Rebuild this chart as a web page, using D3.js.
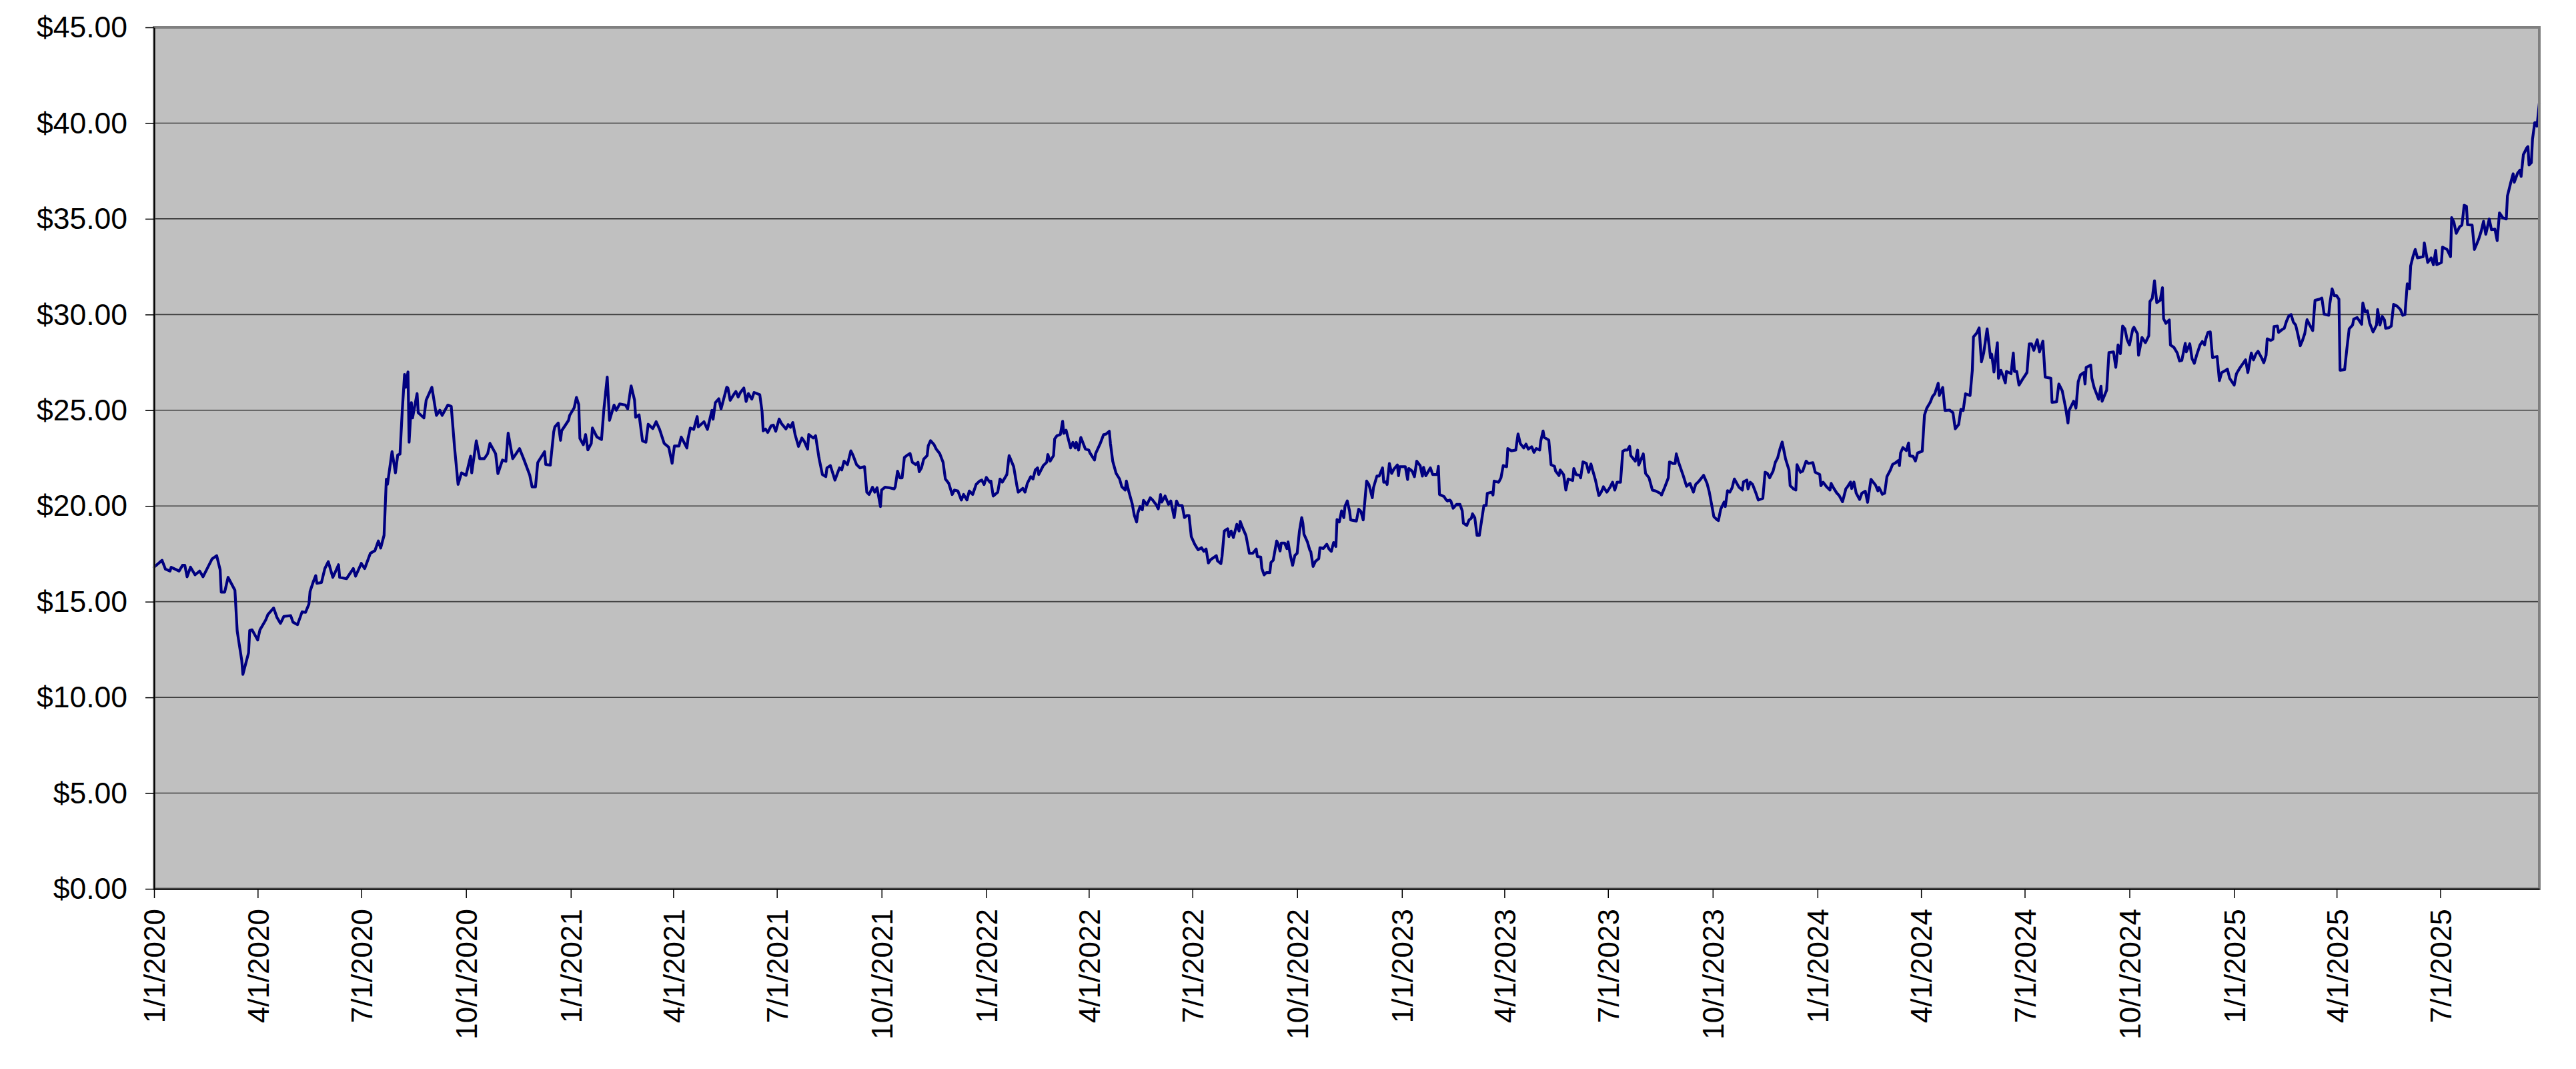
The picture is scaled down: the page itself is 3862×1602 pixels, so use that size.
<!DOCTYPE html>
<html>
<head>
<meta charset="utf-8">
<script src="https://cdn.jsdelivr.net/npm/d3@7"></script>
<style>
  html, body { margin: 0; padding: 0; background: #ffffff; }
  svg { display: block; }
</style>
</head>
<body>
<script>
// ---------------- DATA ----------------
const startDate = "2020-01-01";

// days elapsed since startDate for each observation
const dayOffsets = [
  0,7,10,14,15,22,25,27,29,32,36,40,43,51,55,58,59,62,65,71,73,77,78,83,84,86,91,93,98,100,
  105,108,111,114,120,122,126,130,133,136,137,140,142,143,147,150,153,157,159,162,163,169,175,177,182,185,190,194,197,199,
  202,204,205,209,212,214,216,218,220,221,223,224,226,227,231,232,237,239,244,248,251,253,258,261,264,267,270,274,278,279,
  283,286,290,293,295,300,302,306,309,311,315,318,321,325,330,332,335,337,343,344,348,351,352,355,357,358,364,365,369,371,
  373,374,377,379,381,384,385,389,393,395,398,400,404,406,409,414,416,419,422,423,426,429,432,434,438,441,444,448,452,455,
  457,461,463,468,469,471,474,477,478,483,486,490,491,493,496,498,503,
  504,506,509,511,513,515,518,520,522,525,527,532,534,535,537,539,542,544,546,549,551,555,557,559,561,563,566,569,571,574,
  575,579,581,584,587,590,591,594,598,602,604,606,609,612,614,617,620,624,626,628,631,633,635,638,639,642,646,650,651,653,
  655,657,659,661,664,666,669,671,672,674,676,679,680,682,685,687,690,693,695,698,701,703,706,709,711,714,716,719,722,725,
  727,729,731,734,735,737,741,743,745,749,751,755,758,759,763,765,767,770,772,774,776,777,781,784,785,787,790,791,793,796,
  798,799,801,805,807,809,810,812,814,818,821,822,826,827,831,
  834,836,839,840,842,845,848,850,853,854,856,859,861,863,864,866,868,869,872,875,877,880,882,884,885,888,891,893,896,898,
  900,903,905,907,909,911,914,917,920,922,924,926,928,933,934,937,938,940,943,944,946,948,951,953,954,956,959,962,965,968,
  969,972,973,975,977,980,981,983,986,987,989,990,993,995,996,998,1000,1002,1004,1006,1008,1009,1010,1013,1015,1016,1018,1020,1023,1024,
  1027,1030,1032,1034,1036,1038,1039,1041,1043,1045,1046,1048,1050,1051,1056,1058,1060,1062,1065,1067,1070,1071,1074,1076,1079,1080,1082,1083,1085,1087,
  1089,1092,1093,1094,1099,1101,1102,1105,1107,1109,1112,1114,1115,1117,1121,1123,1127,1128,1129,1133,1135,1136,1138,1139,1141,1144,1147,1149,1150,1153,
  1155,1157,1158,1160,1162,1164,1168,1170,1171,1175,1176,1177,1181,1183,1185,1188,1189,1192,1196,1198,1200,1203,1205,1207,1210,1212,1214,1217,1218,1220,
  1221,1225,1227,1230,1231,1234,1235,1238,1240,1242,1246,1247,1249,1252,1253,1255,1258,1260,1262,1266,1269,1271,1273,1276,1279,1281,1283,1285,1288,1290,
  1292,1294,1296,1297,1301,1303,1304,1308,1310,1313,1316,1319,1323,1324,1327,1330,1331,1334,1336,1337,1339,1343,1346,1349,1352,1354,1357,1361,1364,1366,
  1370,1373,1374,1376,1379,1380,1382,1384,1386,1388,1392,1395,1396,1399,1400,1402,1404,1407,1409,1413,1415,1417,1419,1422,1424,1426,1428,1430,1433,1436,
  1437,1440,1442,1443,1446,1448,1451,1453,1457,1459,1463,1464,1466,1469,1472,1473,1475,
  1478,1480,1483,1486,1487,1490,1491,1493,1495,1498,1500,1503,1505,1508,1512,1514,1515,1518,1520,1522,1525,1527,1529,1532,1533,1534,1536,1539,1541,1542,
  1545,1547,1549,1553,1555,1557,1560,1562,1564,1567,1568,1571,1573,1577,1580,1582,1585,1587,1589,1591,1595,1597,1598,1601,1603,1605,1607,1610,1613,1614,
  1616,1619,1620,1622,1624,1626,1627,1631,1633,1634,1636,1638,1641,1645,1647,1649,1651,1654,1656,1659,1661,1666,1667,1671,1673,1676,1679,1681,1682,1686,
  1688,1690,1692,1695,1696,1697,1701,1702,1704,1708,1710,1711,1715,1717,1721,1723,1725,1727,1729,1731,1733,1735,1738,1739,1742,1743,1746,1749,1752,1753,
  1755,1757,1759,1762,1764,1765,1767,1770,1771,1774,1777,1779,1781,1784,1785,1788,1790,1792,1794,1797,
  1799,1801,1802,1804,1806,1808,1812,1814,1816,1819,1821,1823,1827,1829,1832,1837,1839,1842,1844,1846,1848,1851,1853,1855,1856,1859,1861,1862,1865,1866,
  1869,1871,1873,1875,1877,1879,1881,1883,1885,1887,1889,1891,1893,1896,1898,1902,1904,1906,1910,1911,1913,1915,1917,1919,1920,1924,1926,1928,1931,1932,
  1935,1939,1940,1942,1944,1946,1949,1952,1953,1955,1957,1959,1960,1963,1965,1967,1970,1973,1975,1977,1979,1981,1982,1984,1986,1988,1993,1994,1997,2000,
  2002,2004,2005,2009,2010,2014,2017,2018,2020,2022,2025,2027,2028,2029,2031,2032,2036,2038,2040,2042,2044,2046,2048,2051,2053,2056,2058,2060,2063,2066,
  2067,2070,2072,2073,2076,2078,2079,2081,2084,2085,2086,2088,2089,2091,2092,2093,2095
];

// closing price (USD) for each observation
const prices = [
  16.80,17.16,16.70,16.60,16.80,16.60,16.90,16.90,16.30,16.80,16.40,16.60,16.30,17.24,17.40,16.67,15.50,15.50,16.27,15.60,13.47,11.93,11.20,12.33,13.50,13.53,13.00,13.53,14.04,14.33,
  14.67,14.17,13.87,14.23,14.27,13.93,13.80,14.47,14.44,14.87,15.53,16.07,16.36,15.96,16.00,16.73,17.09,16.27,16.53,16.93,16.27,16.20,16.73,16.33,17.00,16.73,17.53,17.67,18.17,17.80,
  18.47,21.40,21.13,22.84,21.73,22.67,22.71,25.00,26.87,26.20,27.00,23.33,25.40,24.60,25.87,24.87,24.60,25.53,26.20,24.73,25.00,24.73,25.27,25.20,23.00,21.13,21.73,21.60,22.60,21.73,
  23.40,22.47,22.47,22.73,23.27,22.73,21.69,22.40,22.33,23.80,22.47,22.73,23.00,22.40,21.60,21.00,21.00,22.27,22.84,22.17,22.13,23.87,24.13,24.33,23.43,23.93,24.47,24.73,25.13,25.67,
  25.29,23.53,23.20,23.73,22.93,23.27,24.07,23.60,23.47,25.00,26.73,24.47,25.27,25.00,25.33,25.27,25.07,26.27,25.53,24.63,24.76,23.40,23.33,24.27,24.04,24.40,24.00,23.27,23.07,22.23,
  23.13,23.13,23.60,23.03,23.53,24.07,24.00,24.67,24.13,24.40,24.00,25.00,24.53,25.40,25.60,25.07,26.20,
  26.16,25.52,25.81,25.98,25.69,25.93,26.16,25.46,25.87,25.58,25.93,25.81,24.94,23.92,24.02,23.84,24.19,24.22,23.90,24.54,24.31,24.02,24.25,24.11,24.36,23.73,23.11,23.55,23.38,22.97,
  23.73,23.55,23.67,22.51,21.64,21.53,21.99,22.11,21.35,21.99,21.88,22.34,22.16,22.88,22.63,22.16,21.99,22.05,20.72,20.60,20.98,20.72,20.95,19.97,20.83,20.98,20.95,20.89,21.00,21.82,
  21.47,21.47,22.53,22.63,22.74,22.28,22.16,22.28,21.79,21.99,22.45,22.63,23.15,23.41,23.21,22.97,22.74,22.28,21.41,21.18,20.60,20.83,20.78,20.31,20.60,20.31,20.78,20.60,21.12,21.30,
  21.35,21.12,21.49,21.24,21.30,20.52,20.72,21.41,21.24,21.64,22.63,22.05,21.00,20.72,20.92,20.72,21.18,21.53,21.41,21.88,21.99,21.64,22.11,22.28,22.69,22.34,22.63,23.50,23.67,23.73,
  24.42,23.79,23.96,23.03,23.32,23.03,23.32,22.92,23.58,22.97,22.92,22.77,22.40,22.74,23.26,
  23.73,23.75,23.90,23.26,22.34,21.70,21.41,21.00,20.83,21.30,20.78,20.14,19.50,19.16,19.62,19.97,19.80,20.29,20.06,20.43,20.31,20.08,19.85,20.60,20.20,20.52,20.08,20.26,19.39,20.26,
  20.02,20.02,19.39,19.50,19.50,18.40,18.00,17.71,17.82,17.63,17.75,17.02,17.19,17.40,17.14,16.99,17.36,18.69,18.81,18.40,18.69,18.35,19.04,18.69,19.19,18.87,18.46,17.53,17.53,17.75,
  17.36,17.33,16.73,16.40,16.52,16.52,17.05,17.17,18.17,18.06,17.65,18.06,18.06,17.77,18.12,17.42,16.90,17.42,17.53,18.69,19.39,19.10,18.52,18.12,17.71,17.60,16.84,17.10,17.25,17.82,
  17.78,18.00,17.75,17.63,18.09,17.88,19.29,19.16,19.74,19.39,19.99,20.26,19.74,19.27,19.21,19.83,19.71,19.27,21.30,21.12,20.43,20.95,21.56,21.56,21.99,21.24,21.26,21.12,22.22,21.70,
  21.93,22.14,21.58,22.05,22.05,21.38,21.96,21.82,21.53,22.34,22.11,21.56,22.02,21.58,21.99,21.64,21.64,22.07,20.60,20.49,20.31,20.26,20.31,20.26,19.88,20.08,20.08,19.74,19.10,18.98,
  19.27,19.36,19.59,19.39,18.46,18.46,20.02,20.02,20.66,20.72,20.57,21.30,21.24,21.47,22.11,22.05,23.00,22.88,22.92,23.76,23.26,23.03,23.23,22.97,23.09,22.80,23.00,22.92,23.41,23.92,
  23.58,23.44,22.16,22.07,21.82,21.59,21.88,21.64,20.83,21.41,21.33,21.96,21.64,21.60,21.47,22.30,22.22,21.76,22.19,21.35,20.54,20.72,21.00,20.72,21.00,21.24,20.83,21.24,21.24,22.86,
  22.92,22.92,23.12,22.63,22.34,22.92,22.14,22.72,21.70,21.47,20.83,20.78,20.66,20.57,21.00,21.47,22.30,22.22,22.22,22.72,22.28,21.60,21.03,21.18,20.72,21.12,21.30,21.60,21.18,20.72,
  19.44,19.27,19.24,19.83,20.20,19.97,20.80,20.72,20.95,21.41,20.98,20.83,21.26,21.35,20.89,21.24,21.12,20.66,20.31,20.40,21.76,21.70,21.47,21.82,22.28,22.51,22.97,23.34,22.45,21.88,
  21.06,20.89,20.83,22.16,21.76,21.82,22.34,22.22,22.26,21.76,21.64,21.06,21.24,21.00,20.83,21.18,20.95,
  20.67,20.55,20.22,20.91,20.97,21.25,20.91,21.25,20.67,20.34,20.67,20.77,20.19,21.39,21.09,20.79,20.97,20.61,20.67,21.53,21.87,22.17,22.23,22.37,22.11,22.77,23.05,22.89,23.29,22.62,
  22.59,22.35,22.77,22.86,24.75,25.11,25.41,25.71,25.86,26.41,25.77,26.19,24.99,25.01,24.87,24.03,24.25,25.05,24.99,25.86,25.77,27.09,28.83,29.04,29.30,27.53,27.99,29.25,27.75,27.93,
  27.00,28.53,26.67,27.09,26.79,26.43,27.03,26.91,27.99,27.03,27.03,26.31,26.61,26.97,28.47,28.47,28.13,28.68,28.05,28.61,26.73,26.67,25.41,25.44,26.37,26.01,25.11,24.33,24.99,25.47,
  25.11,26.49,26.85,26.97,26.37,27.24,27.36,26.67,26.19,25.57,26.25,25.47,26.05,28.01,28.05,27.24,28.41,27.96,29.40,29.25,28.68,28.41,29.25,29.33,29.00,27.87,28.80,28.53,28.89,30.68,
  30.84,31.76,30.62,30.74,31.40,29.78,29.54,29.72,28.41,28.29,27.99,27.57,27.60,28.49,28.05,28.47,27.69,27.45,27.87,28.41,
  28.59,28.41,28.71,29.07,29.09,27.75,27.81,26.55,26.97,27.06,27.15,26.67,26.31,26.91,27.21,27.63,26.97,27.99,27.63,27.93,28.08,27.75,27.48,27.87,28.73,28.65,28.71,29.37,29.40,29.07,
  29.21,29.28,29.66,29.93,30.00,29.60,29.45,28.95,28.37,28.65,29.01,29.73,29.49,29.16,30.74,30.80,30.86,30.02,29.96,30.56,31.34,30.98,30.98,30.80,27.09,27.12,28.23,29.25,29.45,29.76,
  29.84,29.49,30.60,30.14,30.20,29.55,29.09,29.45,30.26,29.45,29.90,29.72,29.28,29.31,29.40,30.53,30.44,30.26,29.96,30.00,31.60,31.34,32.54,33.02,33.40,32.96,33.02,33.74,32.72,32.96,
  32.60,33.35,32.60,32.72,33.52,33.40,33.02,35.06,34.82,34.24,34.58,34.67,35.17,35.71,35.65,34.69,34.67,33.40,33.68,33.98,34.36,34.87,34.19,34.99,34.43,34.46,33.86,35.31,35.05,34.99,
  36.19,36.91,37.35,36.91,37.39,37.54,37.21,38.35,38.71,38.77,37.81,37.93,39.15,40.02,40.02,39.84,41.04
];

// axis tick values / labels
const yTickValues = [0, 5, 10, 15, 20, 25, 30, 35, 40, 45];
const xTickLabels = [
  "1/1/2020","4/1/2020","7/1/2020","10/1/2020",
  "1/1/2021","4/1/2021","7/1/2021","10/1/2021",
  "1/1/2022","4/1/2022","7/1/2022","10/1/2022",
  "1/1/2023","4/1/2023","7/1/2023","10/1/2023",
  "1/1/2024","4/1/2024","7/1/2024","10/1/2024",
  "1/1/2025","4/1/2025","7/1/2025"
];

// ---------------- CHART ----------------
const W = 3862, H = 1602;
const plot = { left: 231, right: 3807, top: 41, bottom: 1332 };
const FONT = "'Liberation Sans', Arial, Helvetica, sans-serif";

const start = d3.utcParse("%Y-%m-%d")(startDate);
const parseTick = d3.utcParse("%m/%d/%Y");
const series = dayOffsets.map((d, i) => ({ date: d3.utcDay.offset(start, d), value: prices[i] }));

const x = d3.scaleUtc()
  .domain([start, series[series.length - 1].date])
  .range([plot.left, plot.right]);
const y = d3.scaleLinear()
  .domain([0, 45])
  .range([plot.bottom, plot.top]);

const svg = d3.select("body").append("svg")
  .attr("width", W).attr("height", H)
  .attr("viewBox", `0 0 ${W} ${H}`);

svg.append("rect").attr("width", W).attr("height", H).attr("fill", "#ffffff");

// plot background
svg.append("rect")
  .attr("x", plot.left).attr("y", plot.top)
  .attr("width", plot.right - plot.left).attr("height", plot.bottom - plot.top)
  .attr("fill", "#c0c0c0");

// gridlines
svg.append("g")
  .selectAll("line")
  .data(yTickValues.filter(v => v > 0 && v < 45))
  .join("line")
  .attr("x1", plot.left).attr("x2", plot.right)
  .attr("y1", d => y(d)).attr("y2", d => y(d))
  .attr("stroke", "#3c3c3c")
  .attr("stroke-width", 1.6);

// data line
const line = d3.line()
  .x(d => x(d.date))
  .y(d => y(d.value));

svg.append("path")
  .datum(series)
  .attr("fill", "none")
  .attr("stroke", "#000080")
  .attr("stroke-width", 4.2)
  .attr("stroke-linejoin", "round")
  .attr("stroke-linecap", "round")
  .attr("d", line);

// plot border (gray frame)
svg.append("rect")
  .attr("x", plot.left).attr("y", plot.top)
  .attr("width", plot.right - plot.left).attr("height", plot.bottom - plot.top)
  .attr("fill", "none")
  .attr("stroke", "#808080")
  .attr("stroke-width", 4);

// y axis
const yAxis = d3.axisLeft(y)
  .tickValues(yTickValues)
  .tickSize(13)
  .tickSizeOuter(0)
  .tickPadding(27)
  .tickFormat(d => "$" + d.toFixed(2));

const gy = svg.append("g")
  .attr("transform", `translate(${plot.left},0)`)
  .call(yAxis);
gy.select(".domain").attr("stroke", "#000").attr("stroke-width", 2);
gy.selectAll(".tick line").attr("stroke", "#000").attr("stroke-width", 1.5);
gy.selectAll(".tick text")
  .attr("font-family", FONT)
  .attr("font-size", 44.5)
  .attr("fill", "#000")
  .attr("dy", "0.33em");

// x axis
const xAxis = d3.axisBottom(x)
  .tickValues(xTickLabels.map(s => parseTick(s)))
  .tickSize(14)
  .tickSizeOuter(0)
  .tickFormat((d, i) => xTickLabels[i]);

const gx = svg.append("g")
  .attr("transform", `translate(0,${plot.bottom})`)
  .call(xAxis);
gx.select(".domain").attr("stroke", "#000").attr("stroke-width", 2);
gx.selectAll(".tick line").attr("stroke", "#000").attr("stroke-width", 1.5);
gx.selectAll(".tick text")
  .attr("font-family", FONT)
  .attr("font-size", 44)
  .attr("fill", "#000")
  .attr("transform", "rotate(-90)")
  .attr("text-anchor", "end")
  .attr("x", -30)
  .attr("y", 0)
  .attr("dy", "0.36em");
gx.attr("font-family", null).attr("font-size", null);
gy.attr("font-family", null).attr("font-size", null);
</script>
</body>
</html>
